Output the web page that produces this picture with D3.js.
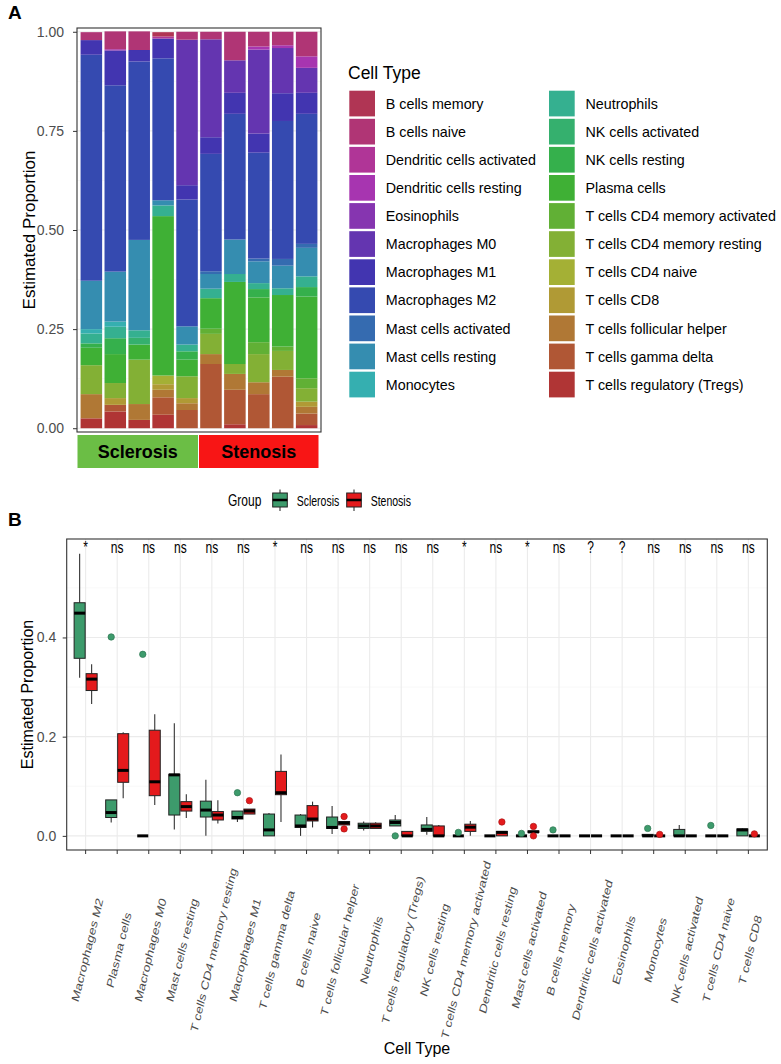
<!DOCTYPE html>
<html>
<head>
<meta charset="utf-8">
<script src="https://cdn.jsdelivr.net/npm/d3@7"></script>
<style>
  body { margin: 0; background: #fff; }
  svg { display: block; font-family: "Liberation Sans", Arial, sans-serif; }
</style>
</head>
<body>
<svg id="chart" width="781" height="1064"></svg>
<script>
// ---- data ----
const cellTypes = [
  "B cells memory", "B cells naive", "Dendritic cells activated", "Dendritic cells resting",
  "Eosinophils", "Macrophages M0", "Macrophages M1", "Macrophages M2",
  "Mast cells activated", "Mast cells resting", "Monocytes", "Neutrophils",
  "NK cells activated", "NK cells resting", "Plasma cells", "T cells CD4 memory activated",
  "T cells CD4 memory resting", "T cells CD4 naive", "T cells CD8", "T cells follicular helper",
  "T cells gamma delta", "T cells regulatory (Tregs)"
];

const palette = [
  "#B03554", "#B03575", "#B03597", "#A735B0", "#8635B0", "#6435B0", "#4235B0", "#354AB0",
  "#356BB0", "#358DB0", "#35AFB0", "#35B090", "#35B06E", "#35B04C", "#3FB035", "#61B035",
  "#83B035", "#A4B035", "#B09A35", "#B07835", "#B05735", "#B03535"
];

const groupNames = ["Sclerosis", "Stenosis"];

// one row per sample, values in cellTypes order
const sclerosisSamples = [
  [0, 0.020, 0, 0, 0, 0, 0.037, 0.570, 0, 0.122, 0.011, 0.025, 0, 0.011, 0.044, 0, 0.073, 0, 0, 0.061, 0, 0.025],
  [0, 0.045, 0, 0.003, 0, 0, 0.088, 0.470, 0, 0.126, 0.013, 0.029, 0, 0.040, 0.073, 0, 0.038, 0, 0.017, 0, 0.017, 0.042],
  [0, 0.047, 0, 0, 0, 0, 0.029, 0.450, 0, 0.228, 0, 0.019, 0.017, 0, 0.038, 0, 0.112, 0, 0, 0.040, 0, 0.021],
  [0.011, 0, 0.005, 0, 0, 0, 0.050, 0.358, 0, 0.013, 0, 0.027, 0, 0, 0.402, 0, 0, 0.022, 0.014, 0.019, 0.044, 0.034],
  [0, 0.020, 0, 0, 0, 0.367, 0.036, 0.320, 0, 0.046, 0, 0.017, 0, 0.021, 0.042, 0, 0.055, 0, 0.013, 0.017, 0.046, 0]
];

const stenosisSamples = [
  [0, 0.019, 0, 0, 0, 0.247, 0.042, 0.296, 0.007, 0.037, 0, 0.024, 0, 0, 0.077, 0.013, 0.051, 0, 0, 0.025, 0.162, 0],
  [0, 0.072, 0, 0, 0, 0.082, 0.053, 0.317, 0, 0.087, 0, 0.020, 0, 0, 0.207, 0, 0.025, 0, 0, 0.040, 0.087, 0.010],
  [0, 0.037, 0, 0.008, 0, 0.212, 0.048, 0.267, 0.007, 0.055, 0, 0.015, 0, 0.021, 0.113, 0.030, 0.071, 0, 0, 0.030, 0.086, 0],
  [0, 0.034, 0, 0.007, 0, 0.114, 0.070, 0.348, 0.017, 0.057, 0, 0.017, 0, 0, 0.130, 0.011, 0.048, 0, 0, 0.017, 0.130, 0],
  [0, 0.062, 0, 0.029, 0, 0.063, 0.053, 0.328, 0.010, 0.072, 0, 0.027, 0, 0.024, 0.206, 0.025, 0.034, 0, 0.013, 0.017, 0.029, 0.008]
];

// panel B: order on x axis
const boxOrder = [
  "Macrophages M2", "Plasma cells", "Macrophages M0", "Mast cells resting", "T cells CD4 memory resting",
  "Macrophages M1", "T cells gamma delta", "B cells naive", "T cells follicular helper", "Neutrophils",
  "T cells regulatory (Tregs)", "NK cells resting", "T cells CD4 memory activated", "Dendritic cells resting",
  "Mast cells activated", "B cells memory", "Dendritic cells activated", "Eosinophils", "Monocytes",
  "NK cells activated", "T cells CD4 naive", "T cells CD8"
];

// [min whisker, q1, median, q3, max whisker]
const sclerosisBox = [
  [0.319, 0.358, 0.449, 0.470, 0.569], [0.027, 0.037, 0.047, 0.0725, 0.0725], [0, 0, 0, 0, 0],
  [0.013, 0.042, 0.123, 0.124, 0.227], [0, 0.038, 0.052, 0.070, 0.113], [0.028, 0.034, 0.037, 0.050, 0.050],
  [0, 0, 0.012, 0.044, 0.046], [0, 0.017, 0.020, 0.042, 0.044], [0.004, 0.015, 0.017, 0.038, 0.060],
  [0.011, 0.015, 0.020, 0.0255, 0.029], [0.020, 0.020, 0.027, 0.032, 0.042], [0.002, 0.009, 0.013, 0.022, 0.038],
  [0, 0, 0, 0, 0], [0, 0, 0, 0, 0], [0, 0, 0, 0, 0], [0, 0, 0, 0, 0], [0, 0, 0, 0, 0], [0, 0, 0, 0, 0],
  [0, 0, 0, 0.003, 0.004], [0, 0, 0, 0.013, 0.022], [0, 0, 0, 0, 0], [0, 0, 0.012, 0.014, 0.015]
];
const stenosisBox = [
  [0.266, 0.293, 0.316, 0.327, 0.346], [0.076, 0.108, 0.132, 0.206, 0.209], [0.062, 0.081, 0.109, 0.213, 0.245],
  [0.036, 0.050, 0.059, 0.069, 0.084], [0.025, 0.032, 0.042, 0.049, 0.072], [0.044, 0.044, 0.050, 0.054, 0.054],
  [0.028, 0.083, 0.087, 0.130, 0.164], [0.017, 0.030, 0.034, 0.061, 0.069], [0.022, 0.022, 0.026, 0.029, 0.029],
  [0.015, 0.015, 0.020, 0.0255, 0.0275], [0, 0, 0, 0.009, 0.010], [0, 0, 0, 0.020, 0.022],
  [0, 0.009, 0.0175, 0.0235, 0.030], [0, 0, 0.007, 0.009, 0.009], [0.007, 0.007, 0.008, 0.010, 0.010],
  [0, 0, 0, 0, 0], [0, 0, 0, 0, 0], [0, 0, 0, 0, 0], [0, 0, 0, 0, 0], [0, 0, 0, 0, 0], [0, 0, 0, 0, 0], [0, 0, 0, 0, 0]
];
const sclerosisOutliers = [
  [], [0.401], [0.366], [], [], [0.087], [], [], [], [], [0], [], [0.007], [], [0.005], [0.012], [], [],
  [0.015], [], [0.021], []
];
const stenosisOutliers = [
  [], [], [], [], [], [0.071], [], [], [0.039, 0.014], [], [], [], [], [0.028], [0.019, 0], [], [], [],
  [0.003], [], [], [0.004]
];
const sigLabels = ["*", "ns", "ns", "ns", "ns", "ns", "*", "ns", "ns", "ns", "ns", "ns", "*", "ns", "*", "ns", "?", "?", "ns", "ns", "ns", "ns"];

// ---- drawing ----
const svg = d3.select("#chart");
const tickGrey = "#4D4D4D";
const groupFill = { "Sclerosis": "#3D9B6C", "Stenosis": "#E41A1C" };
const squeeze = 0.75; // panel B text is horizontally narrow in the reference

svg.append("text").attr("x", 8).attr("y", 19).attr("font-size", 19).attr("font-weight", "bold").text("A");
svg.append("text").attr("x", 8).attr("y", 526).attr("font-size", 19).attr("font-weight", "bold").text("B");

// ===== Panel A: stacked bars =====
const pA = { left: 77, right: 321, top: 28, bottom: 432 };
const rows = sclerosisSamples.map((v, i) => ({ id: "Sclerosis " + (i + 1), group: "Sclerosis", v }))
  .concat(stenosisSamples.map((v, i) => ({ id: "Stenosis " + (i + 1), group: "Stenosis", v })));
const stackData = rows.map(r => {
  const o = { id: r.id };
  cellTypes.forEach((c, j) => o[c] = r.v[j]);
  return o;
});
const series = d3.stack().keys(cellTypes.slice().reverse())(stackData);

const xA = d3.scaleBand().domain(rows.map(r => r.id)).range([pA.left, pA.right])
  .paddingInner(0.1).paddingOuter(0.15);
const yA = d3.scaleLinear().domain([-0.0095, 1.0095]).range([pA.bottom, pA.top]);
const color = d3.scaleOrdinal(cellTypes, palette);

const gA = svg.append("g");
gA.append("rect").attr("x", pA.left).attr("y", pA.top)
  .attr("width", pA.right - pA.left).attr("height", pA.bottom - pA.top).attr("fill", "#fff");
gA.selectAll("line.minor").data([0.125, 0.375, 0.625, 0.875]).join("line")
  .attr("x1", pA.left).attr("x2", pA.right).attr("y1", d => yA(d)).attr("y2", d => yA(d))
  .attr("stroke", "#F3F3F3").attr("stroke-width", 0.6);
gA.selectAll("line.major").data([0, 0.25, 0.5, 0.75, 1]).join("line")
  .attr("x1", pA.left).attr("x2", pA.right).attr("y1", d => yA(d)).attr("y2", d => yA(d))
  .attr("stroke", "#EBEBEB").attr("stroke-width", 1.1);

gA.selectAll("g.layer").data(series).join("g")
  .attr("fill", d => color(d.key))
  .selectAll("rect").data(d => d).join("rect")
  .attr("x", d => xA(d.data.id))
  .attr("width", xA.bandwidth())
  .attr("y", d => yA(d[1]))
  .attr("height", d => Math.max(0, yA(d[0]) - yA(d[1])));

gA.append("rect").attr("x", pA.left).attr("y", pA.top)
  .attr("width", pA.right - pA.left).attr("height", pA.bottom - pA.top)
  .attr("fill", "none").attr("stroke", "#333").attr("stroke-width", 1.1);

const axA = gA.append("g").attr("transform", `translate(${pA.left},0)`)
  .call(d3.axisLeft(yA).tickValues([0, 0.25, 0.5, 0.75, 1]).tickFormat(d3.format(".2f"))
    .tickSize(4).tickPadding(9));
axA.select(".domain").remove();
axA.selectAll("line").attr("stroke", "#333");
axA.selectAll("text").attr("fill", tickGrey).attr("font-size", 14)
  .attr("font-family", "Liberation Sans, Arial, sans-serif");

svg.append("text").attr("transform", `translate(35,${(pA.top + pA.bottom) / 2}) rotate(-90)`)
  .attr("text-anchor", "middle").attr("font-size", 17).text("Estimated Proportion");

// group strip under the bars
const splitX = (xA("Sclerosis 5") + xA.bandwidth() + xA("Stenosis 1")) / 2;
const strips = [
  { name: groupNames[0], x0: pA.left + 0.5, x1: splitX - 1, fill: "#6BBE45" },
  { name: groupNames[1], x0: splitX, x1: pA.right - 2.5, fill: "#F81515" }
];
svg.selectAll("rect.strip").data(strips).join("rect")
  .attr("x", d => d.x0).attr("width", d => d.x1 - d.x0)
  .attr("y", 435).attr("height", 33).attr("fill", d => d.fill);
svg.selectAll("text.strip").data(strips).join("text")
  .attr("x", d => (d.x0 + d.x1) / 2).attr("y", 458)
  .attr("text-anchor", "middle").attr("font-size", 18).attr("font-weight", "bold")
  .text(d => d.name);

// legend A
const legA = svg.append("g");
legA.append("text").attr("x", 348).attr("y", 79).attr("font-size", 17.5).text("Cell Type");
const legItems = legA.selectAll("g.item").data(cellTypes).join("g")
  .attr("transform", (d, i) => `translate(${i < 11 ? 349.3 : 549}, ${90.7 + (i % 11) * 28.1})`);
legItems.append("rect").attr("width", 25.7).attr("height", 25.7).attr("fill", d => color(d));
legItems.append("text").attr("x", 36.5).attr("y", 18).attr("font-size", 14.3).text(d => d);

// ===== Panel B: box plots =====
const pB = { left: 66.7, right: 767.3, top: 539, bottom: 850 };
const xB = d3.scalePoint().domain(boxOrder).range([pB.left, pB.right]).padding(0.6);
const yB = d3.scaleLinear().domain([-0.0285, 0.5985]).range([pB.bottom, pB.top]);
const step = xB.step();
const boxW = step * 0.35;
const dodge = { "Sclerosis": -step * 0.19, "Stenosis": step * 0.19 };

const gB = svg.append("g");
gB.append("rect").attr("x", pB.left).attr("y", pB.top)
  .attr("width", pB.right - pB.left).attr("height", pB.bottom - pB.top).attr("fill", "#fff");
gB.selectAll("line.minor").data([0.1, 0.3, 0.5]).join("line")
  .attr("x1", pB.left).attr("x2", pB.right).attr("y1", d => yB(d)).attr("y2", d => yB(d))
  .attr("stroke", "#F3F3F3").attr("stroke-width", 0.6);
gB.selectAll("line.major").data([0, 0.2, 0.4]).join("line")
  .attr("x1", pB.left).attr("x2", pB.right).attr("y1", d => yB(d)).attr("y2", d => yB(d))
  .attr("stroke", "#EBEBEB").attr("stroke-width", 1.1);
gB.selectAll("line.vgrid").data(boxOrder).join("line")
  .attr("x1", d => xB(d)).attr("x2", d => xB(d)).attr("y1", pB.top).attr("y2", pB.bottom)
  .attr("stroke", "#EBEBEB").attr("stroke-width", 1.1);

const boxes = [];
boxOrder.forEach((cat, i) => {
  boxes.push({ cat, group: "Sclerosis", s: sclerosisBox[i], out: sclerosisOutliers[i] });
  boxes.push({ cat, group: "Stenosis", s: stenosisBox[i], out: stenosisOutliers[i] });
});

const bx = gB.selectAll("g.box").data(boxes).join("g")
  .attr("transform", d => `translate(${xB(d.cat) + dodge[d.group]},0)`);
bx.append("line").attr("y1", d => yB(d.s[0])).attr("y2", d => yB(d.s[1]))
  .attr("stroke", "#333").attr("stroke-width", 1.1);
bx.append("line").attr("y1", d => yB(d.s[3])).attr("y2", d => yB(d.s[4]))
  .attr("stroke", "#333").attr("stroke-width", 1.1);
bx.append("rect").attr("x", -boxW / 2).attr("width", boxW)
  .attr("y", d => yB(d.s[3])).attr("height", d => yB(d.s[1]) - yB(d.s[3]))
  .attr("fill", d => groupFill[d.group]).attr("stroke", "#222").attr("stroke-width", 1);
bx.append("line").attr("x1", -boxW / 2).attr("x2", boxW / 2)
  .attr("y1", d => yB(d.s[2])).attr("y2", d => yB(d.s[2]))
  .attr("stroke", "#000").attr("stroke-width", 3);
bx.selectAll("circle").data(d => d.out.map(v => ({ v, group: d.group }))).join("circle")
  .attr("cy", d => yB(d.v)).attr("r", 3.2)
  .attr("fill", d => groupFill[d.group])
  .attr("stroke", d => d3.color(groupFill[d.group]).darker(0.8)).attr("stroke-width", 0.7);

gB.append("rect").attr("x", pB.left).attr("y", pB.top)
  .attr("width", pB.right - pB.left).attr("height", pB.bottom - pB.top)
  .attr("fill", "none").attr("stroke", "#333").attr("stroke-width", 1.1);

// significance labels
gB.selectAll("text.sig").data(boxOrder).join("text")
  .attr("transform", d => `translate(${xB(d)},${yB(0.57)}) scale(${squeeze},1)`)
  .attr("text-anchor", "middle").attr("font-size", 16)
  .text((d, i) => sigLabels[i]);

// axes
const axBy = gB.append("g").attr("transform", `translate(${pB.left},0)`)
  .call(d3.axisLeft(yB).tickValues([0, 0.2, 0.4]).tickFormat(d3.format(".1f")).tickSize(4).tickPadding(6.5));
axBy.select(".domain").remove();
axBy.selectAll("line").attr("stroke", "#333");
axBy.selectAll("text").attr("fill", tickGrey).attr("font-size", 14)
  .attr("font-family", "Liberation Sans, Arial, sans-serif");

gB.selectAll("line.xtick").data(boxOrder).join("line")
  .attr("x1", d => xB(d)).attr("x2", d => xB(d)).attr("y1", pB.bottom).attr("y2", pB.bottom + 4)
  .attr("stroke", "#333");
gB.selectAll("text.xlab").data(boxOrder).join("text")
  .attr("transform", d => `translate(${xB(d) + 2},950) scale(${squeeze},1) rotate(-72)`)
  .attr("text-anchor", "middle").attr("dominant-baseline", "central")
  .attr("font-size", 14).attr("fill", tickGrey).text(d => d);

svg.append("text").attr("transform", `translate(33,${(pB.top + pB.bottom) / 2}) rotate(-90)`)
  .attr("text-anchor", "middle").attr("font-size", 16).text("Estimated Proportion");
svg.append("text").attr("x", (pB.left + pB.right) / 2).attr("y", 1054)
  .attr("text-anchor", "middle").attr("font-size", 16).text("Cell Type");

// legend B
const legB = svg.append("g");
legB.append("text").attr("transform", `translate(228,506) scale(${squeeze},1)`)
  .attr("font-size", 16).text("Group");
const legBItems = legB.selectAll("g.item").data(groupNames).join("g")
  .attr("transform", (d, i) => `translate(${i === 0 ? 272.7 : 346.7},0)`);
legBItems.append("line").attr("x1", 7.3).attr("x2", 7.3).attr("y1", 489.5).attr("y2", 511)
  .attr("stroke", "#333").attr("stroke-width", 1.1);
legBItems.append("rect").attr("y", 493).attr("width", 14.6).attr("height", 14)
  .attr("fill", d => groupFill[d]).attr("stroke", "#222").attr("stroke-width", 1);
legBItems.append("line").attr("x1", 0).attr("x2", 14.6).attr("y1", 500).attr("y2", 500)
  .attr("stroke", "#000").attr("stroke-width", 2.5);
legBItems.append("text").attr("transform", `translate(24,505.5) scale(${squeeze},1)`)
  .attr("font-size", 14).text(d => d);
</script>
</body>
</html>
